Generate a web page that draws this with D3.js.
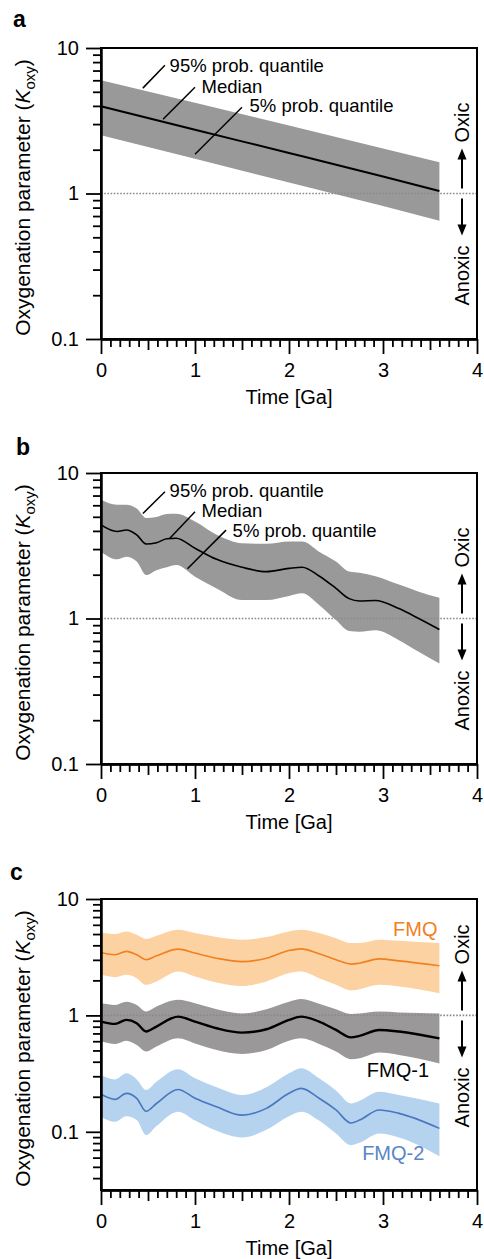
<!DOCTYPE html>
<html>
<head>
<meta charset="utf-8">
<script src="https://cdn.jsdelivr.net/npm/d3@7"></script>
<style>
  body { margin: 0; background: #fff; }
  text { font-family: "Liberation Sans", Arial, Helvetica, sans-serif; fill: #000; }
</style>
</head>
<body>
<div id="my_dataviz"></div>
<script>
// ---- data ----
// panel a
const timeA = [0, 1, 2, 3, 3.6];
const upperA = [6.0, 4.2, 2.93, 2.04, 1.64];
const medianA = [3.98, 2.74, 1.9, 1.31, 1.04];
const lowerA = [2.51, 1.73, 1.19, 0.82, 0.65];

// panel b
const timeB = [0, 0.17, 0.27, 0.38, 0.48, 0.59, 0.7, 0.8, 1.0, 1.23, 1.5, 1.76, 2.0, 2.14, 2.32, 2.5, 2.64, 2.75, 2.92, 3.17, 3.38, 3.6];
const upperB = [6.55, 6.05, 6.05, 5.7, 4.9, 4.98, 5.22, 5.24, 4.64, 3.76, 3.29, 3.26, 3.38, 3.38, 2.88, 2.46, 2.1, 2.06, 1.95, 1.71, 1.53, 1.39];
const medianB = [4.4, 3.96, 4.06, 3.76, 3.25, 3.32, 3.53, 3.56, 3.04, 2.55, 2.25, 2.1, 2.21, 2.25, 1.96, 1.61, 1.37, 1.32, 1.33, 1.17, 1.0, 0.84];
const lowerB = [2.88, 2.55, 2.66, 2.46, 1.99, 2.15, 2.25, 2.33, 1.94, 1.61, 1.34, 1.34, 1.43, 1.49, 1.24, 0.975, 0.82, 0.81, 0.83, 0.71, 0.59, 0.49];

// panel c
const timeC = [0, 0.15, 0.27, 0.38, 0.48, 0.59, 0.82, 1.0, 1.23, 1.5, 1.76, 2.0, 2.13, 2.32, 2.5, 2.66, 2.75, 2.96, 3.17, 3.6];
const fmqUpper = [5.16, 5.0, 5.27, 4.93, 4.53, 4.83, 5.44, 5.1, 4.71, 4.47, 4.71, 5.27, 5.44, 5.1, 4.61, 4.18, 4.18, 4.47, 4.38, 4.18];
const fmqMedian = [3.47, 3.32, 3.55, 3.32, 3.01, 3.25, 3.71, 3.43, 3.1, 2.9, 3.1, 3.61, 3.73, 3.38, 3.01, 2.76, 2.81, 3.06, 2.94, 2.67];
const fmqLower = [2.23, 2.13, 2.23, 2.09, 1.83, 1.96, 2.38, 2.16, 1.92, 1.79, 1.96, 2.31, 2.38, 2.09, 1.83, 1.64, 1.68, 1.83, 1.77, 1.55];
const fmq1Upper = [1.27, 1.23, 1.31, 1.23, 1.08, 1.19, 1.36, 1.27, 1.13, 1.04, 1.13, 1.31, 1.38, 1.26, 1.13, 1.03, 1.04, 1.08, 1.06, 1.04];
const fmq1Median = [0.885, 0.845, 0.915, 0.857, 0.727, 0.802, 0.977, 0.885, 0.776, 0.711, 0.76, 0.915, 0.977, 0.885, 0.75, 0.648, 0.667, 0.75, 0.727, 0.635];
const fmq1Lower = [0.596, 0.569, 0.607, 0.557, 0.489, 0.54, 0.636, 0.575, 0.505, 0.467, 0.505, 0.607, 0.636, 0.569, 0.489, 0.42, 0.428, 0.479, 0.457, 0.387];
const fmq2Upper = [0.308, 0.282, 0.318, 0.282, 0.229, 0.269, 0.344, 0.288, 0.241, 0.207, 0.241, 0.318, 0.351, 0.288, 0.226, 0.175, 0.185, 0.221, 0.207, 0.175];
const fmq2Median = [0.21, 0.19, 0.214, 0.194, 0.15, 0.175, 0.231, 0.194, 0.164, 0.139, 0.159, 0.214, 0.236, 0.194, 0.154, 0.119, 0.126, 0.154, 0.144, 0.107];
const fmq2Lower = [0.135, 0.122, 0.136, 0.126, 0.0935, 0.112, 0.149, 0.125, 0.102, 0.0894, 0.104, 0.136, 0.149, 0.125, 0.0968, 0.0768, 0.0804, 0.0968, 0.0894, 0.0618];

// tick labels
const xMajor = [0, 1, 2, 3, 4];
const yLabels = {0.1: "0.1", 1: "1", 10: "10"};

// ---- layout ----
const W = 484, H = 1259;
const fontSize = 20;

const svg = d3.select("#my_dataviz")
    .append("svg")
    .attr("width", W)
    .attr("height", H);

const panels = [
    {letter: "a", lx: 13, ly: 27, top: 48, bottom: 339, yMin: 0.1, curve: d3.curveLinear,
     series: [{t: timeA, lo: lowerA, md: medianA, hi: upperA, band: "#999999", line: "#000", lw: 2}],
     notes: [
        {text: "95% prob. quantile", at: [0.73, 6.88], from: [0.445, 5.3], to: [0.68, 7.6]},
        {text: "Median", at: [1.07, 4.93], from: [0.66, 3.24], to: [1.0, 5.38]},
        {text: "5% prob. quantile", at: [1.58, 3.65], from: [1.0, 1.86], to: [1.5, 3.92]}
     ]},
    {letter: "b", lx: 16, ly: 455, top: 473, bottom: 764, yMin: 0.1, curve: d3.curveMonotoneX,
     series: [{t: timeB, lo: lowerB, md: medianB, hi: upperB, band: "#999999", line: "#000", lw: 1.6}],
     notes: [
        {text: "95% prob. quantile", at: [0.73, 6.88], from: [0.446, 5.27], to: [0.68, 7.43]},
        {text: "Median", at: [1.07, 4.98], from: [0.73, 3.55], to: [1.0, 5.41]},
        {text: "5% prob. quantile", at: [1.40, 3.65], from: [0.92, 2.2], to: [1.33, 4.05]}
     ]},
    {letter: "c", lx: 10, ly: 880, top: 899, bottom: 1190, yMin: Math.pow(10, -1.5), curve: d3.curveMonotoneX,
     series: [
        {t: timeC, lo: fmqLower, md: fmqMedian, hi: fmqUpper, band: "#fcd2a2", line: "#f08121", lw: 1.6,
         name: "FMQ", nameAt: [3.58, 4.77], nameColor: "#f08121"},
        {t: timeC, lo: fmq1Lower, md: fmq1Median, hi: fmq1Upper, band: "#9b9899", line: "#000", lw: 2.4,
         name: "FMQ-1", nameAt: [3.49, 0.298], nameColor: "#000"},
        {t: timeC, lo: fmq2Lower, md: fmq2Median, hi: fmq2Upper, band: "#b5d3ee", line: "#4a75bf", lw: 1.6,
         name: "FMQ-2", nameAt: [3.44, 0.0575], nameColor: "#5a85c8"}
     ],
     notes: []}
];

panels.forEach(drawPanel);

function drawPanel(p) {
    const x = d3.scaleLinear().domain([0, 4]).range([101, 477]);
    const y = d3.scaleLog().domain([p.yMin, 10]).range([p.bottom, p.top]);
    const g = svg.append("g");

    // bands
    p.series.forEach(function (s) {
        const rows = d3.zip(s.t, s.lo, s.md, s.hi);
        g.append("path")
            .datum(rows)
            .attr("fill", s.band)
            .attr("stroke", "none")
            .attr("d", d3.area()
                .curve(p.curve)
                .x(function (d) { return x(d[0]); })
                .y0(function (d) { return y(d[1]); })
                .y1(function (d) { return y(d[3]); }));
    });

    // K = 1 reference line
    g.append("line")
        .attr("x1", x(0)).attr("x2", x(4))
        .attr("y1", y(1)).attr("y2", y(1))
        .attr("stroke", "#8a8a8a")
        .attr("stroke-width", 1.6)
        .attr("stroke-dasharray", "1.6,1.6");

    // medians
    p.series.forEach(function (s) {
        const rows = d3.zip(s.t, s.lo, s.md, s.hi);
        g.append("path")
            .datum(rows)
            .attr("fill", "none")
            .attr("stroke", s.line)
            .attr("stroke-width", s.lw)
            .attr("stroke-linejoin", "round")
            .attr("d", d3.line()
                .curve(p.curve === d3.curveLinear ? d3.curveMonotoneX : p.curve)
                .x(function (d) { return x(d[0]); })
                .y(function (d) { return y(d[2]); }));
        if (s.name) {
            g.append("text")
                .attr("x", x(s.nameAt[0]))
                .attr("y", y(s.nameAt[1]))
                .attr("text-anchor", "end")
                .style("font-size", fontSize + "px")
                .style("fill", s.nameColor)
                .text(s.name);
        }
    });

    // quantile annotations
    p.notes.forEach(function (n) {
        g.append("line")
            .attr("x1", x(n.from[0])).attr("y1", y(n.from[1]))
            .attr("x2", x(n.to[0])).attr("y2", y(n.to[1]))
            .attr("stroke", "#000").attr("stroke-width", 1.5);
        g.append("text")
            .attr("x", x(n.at[0]))
            .attr("y", y(n.at[1]))
            .style("font-size", "18.5px")
            .text(n.text);
    });

    // frame
    g.append("rect")
        .attr("x", x(0)).attr("y", p.top)
        .attr("width", x(4) - x(0)).attr("height", p.bottom - p.top)
        .attr("fill", "none")
        .attr("stroke", "#000")
        .attr("stroke-width", 2);

    // x axis: major, half and tenth ticks
    const tenths = d3.range(1, 40).map(function (i) { return i / 10; })
        .filter(function (v) { return Math.abs(v * 2 - Math.round(v * 2)) > 1e-6; });
    const halves = [0.5, 1.5, 2.5, 3.5];
    [[xMajor, 15], [halves, 11], [tenths, 8]].forEach(function (cfg, i) {
        const ax = g.append("g")
            .attr("transform", `translate(0,${p.bottom})`)
            .call(d3.axisBottom(x).tickValues(cfg[0]).tickSize(cfg[1]).tickSizeOuter(0).tickPadding(9)
                .tickFormat(i === 0 ? d3.format("d") : ""));
        ax.select(".domain").attr("stroke-width", 2);
        ax.selectAll(".tick line").attr("stroke-width", 1.8);
        ax.selectAll("text").style("font-size", fontSize + "px").attr("font-family", null);
    });

    // y axis: decades and minor ticks
    const decades = [0.1, 1, 10];
    const minors = [];
    [0.01, 0.1, 1].forEach(function (d) {
        for (let k = 2; k <= 9; k++) {
            const v = d * k;
            if (v >= p.yMin * 0.999 && v < 10) minors.push(v);
        }
    });
    [[decades, 15], [minors, 8]].forEach(function (cfg, i) {
        const ax = g.append("g")
            .attr("transform", `translate(${x(0)},0)`)
            .call(d3.axisLeft(y).tickValues(cfg[0]).tickSize(cfg[1]).tickSizeOuter(0).tickPadding(7)
                .tickFormat(i === 0 ? function (v) { return yLabels[v]; } : ""));
        ax.select(".domain").attr("stroke-width", 2);
        ax.selectAll(".tick line").attr("stroke-width", 1.8);
        ax.selectAll("text").style("font-size", fontSize + "px").attr("font-family", null);
    });

    // axis titles
    g.append("text")
        .attr("x", (x(0) + x(4)) / 2)
        .attr("y", p.bottom + 65)
        .attr("text-anchor", "middle")
        .style("font-size", fontSize + "px")
        .text("Time [Ga]");

    const yt = g.append("text")
        .attr("transform", `translate(30,${(p.top + p.bottom) / 2 + 4}) rotate(-90)`)
        .attr("text-anchor", "middle")
        .style("font-size", "21px");
    yt.append("tspan").text("Oxygenation parameter (");
    yt.append("tspan").style("font-style", "italic").text("K");
    yt.append("tspan").attr("dy", 5).style("font-size", "15px").text("oxy");
    yt.append("tspan").attr("dy", -5).text(")");

    // panel letter
    g.append("text")
        .attr("x", p.lx).attr("y", p.ly)
        .style("font-size", "23px")
        .style("font-weight", "bold")
        .text(p.letter);

    // Oxic / Anoxic arrows
    const y1 = y(1), ax0 = 462;
    g.append("text")
        .attr("transform", `translate(${ax0 + 7},${y1 - 51}) rotate(-90)`)
        .style("font-size", fontSize + "px")
        .text("Oxic");
    g.append("text")
        .attr("transform", `translate(${ax0 + 7},${y1 + 52}) rotate(-90)`)
        .attr("text-anchor", "end")
        .style("font-size", fontSize + "px")
        .text("Anoxic");
    g.append("line")
        .attr("x1", ax0).attr("x2", ax0).attr("y1", y1 - 5).attr("y2", y1 - 36)
        .attr("stroke", "#000").attr("stroke-width", 2);
    g.append("path")
        .attr("d", `M${ax0},${y1 - 45}L${ax0 - 4.5},${y1 - 34}L${ax0 + 4.5},${y1 - 34}Z`)
        .attr("fill", "#000");
    g.append("line")
        .attr("x1", ax0).attr("x2", ax0).attr("y1", y1 + 5).attr("y2", y1 + 33)
        .attr("stroke", "#000").attr("stroke-width", 2);
    g.append("path")
        .attr("d", `M${ax0},${y1 + 42}L${ax0 - 4.5},${y1 + 31}L${ax0 + 4.5},${y1 + 31}Z`)
        .attr("fill", "#000");
}
</script>
</body>
</html>
